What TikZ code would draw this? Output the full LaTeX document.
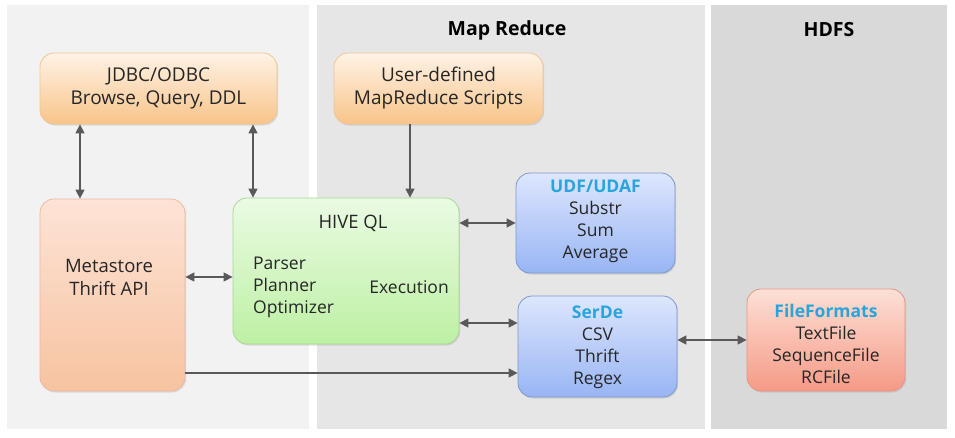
\documentclass[tikz,border=0pt]{standalone}
\usepackage{fontspec}
\setmainfont{Open Sans}
\usetikzlibrary{arrows.meta,shadows}
\definecolor{txt}{HTML}{262626}
\definecolor{cyanT}{HTML}{2AA5DB}
\definecolor{arrC}{HTML}{595959}
\definecolor{panA}{HTML}{F2F2F2}
\definecolor{panB}{HTML}{E6E6E6}
\definecolor{panC}{HTML}{D9D9D9}
\begin{document}
\begin{tikzpicture}[x=1pt,y=-1pt,
  box/.style={rounded corners=14pt, draw, line width=0.8pt, inner sep=0pt,
    drop shadow={shadow xshift=1.2pt, shadow yshift=-1.5pt, opacity=0.22}},
  orangebox/.style={box, top color=orange!10!white, bottom color={rgb,255:red,248;green,196;blue,138}, draw={rgb,255:red,240;green,198;blue,150}},
  peachbox/.style={box, top color={rgb,255:red,253;green,227;blue,214}, bottom color={rgb,255:red,247;green,195;blue,160}, draw={rgb,255:red,236;green,185;blue,160}},
  greenbox/.style={box, top color={rgb,255:red,234;green,251;blue,227}, bottom color={rgb,255:red,189;green,240;blue,164}, draw={rgb,255:red,168;green,216;blue,152}},
  bluebox/.style={box, top color={rgb,255:red,221;green,230;blue,253}, bottom color={rgb,255:red,152;green,181;blue,244}, draw={rgb,255:red,125;green,151;blue,206}},
  coralbox/.style={box, top color={rgb,255:red,253;green,224;blue,214}, bottom color={rgb,255:red,245;green,154;blue,134}, draw={rgb,255:red,231;green,149;blue,133}},
  lbl/.style={text=txt, font=\fontsize{19}{23}\selectfont, align=center, inner sep=0pt},
  lst/.style={lbl, font=\fontsize{17.5}{22}\selectfont},
  ttl/.style={text=black, font=\fontsize{19.5}{22}\selectfont\bfseries, inner sep=0pt},
  arr/.style={draw=arrC, line width=1.4pt, -{Triangle[length=9pt,width=9pt]}},
  darr/.style={draw=arrC, line width=1.4pt, {Triangle[length=9pt,width=9pt]}-{Triangle[length=9pt,width=9pt]}}
]
\useasboundingbox (0,0) rectangle (955,437);
\fill[white] (0,0) rectangle (955,437);
% panels
\fill[panA] (7,5) rectangle (309,429);
\fill[panB] (317,5) rectangle (705,429);
\fill[panC] (711,5) rectangle (947,429);
\node[ttl] (tMR) at (507,30) {Map Reduce};
\node[ttl] (tHD) at (829,30) {HDFS};
% boxes
\node[orangebox, minimum width=237pt, minimum height=71pt] (jdbc) at (158.5,88.5) {};
\node[lbl] (jdbcT) at (158.5,88.5) {JDBC/ODBC\\Browse, Query, DDL};
\node[orangebox, minimum width=209pt, minimum height=71pt] (user) at (438.5,88.5) {};
\node[lbl] (userT) at (438.5,88.5) {User-defined\\MapReduce Scripts};
\node[peachbox, minimum width=145pt, minimum height=192pt] (meta) at (112.5,295) {};
\node[lbl, font=\fontsize{18.5}{23}\selectfont] (metaT) at (109,277) {Metastore\\Thrift API};
\node[greenbox, minimum width=226pt, minimum height=146pt] (hive) at (346,271) {};
\node[lbl, font=\fontsize{18.5}{23}\selectfont] (hiveT) at (353,223) {HIVE QL};
\node[lst, align=left, anchor=west] (hiveL) at (253,287) {Parser\\Planner\\Optimizer};
\node[lst, anchor=east] (hiveE) at (449,287) {Execution};
\node[bluebox, minimum width=159pt, minimum height=100pt] (udf) at (595.5,223) {};
\node[lst] (udfT) at (595.5,221.5) {\textcolor{cyanT}{\bfseries UDF/UDAF}\\Substr\\Sum\\Average};
\node[bluebox, minimum width=159pt, minimum height=101pt] (serde) at (597.5,346.5) {};
\node[lst] (serdeT) at (597.5,347.5) {\textcolor{cyanT}{\bfseries SerDe}\\CSV\\Thrift\\Regex};
\node[coralbox, minimum width=158pt, minimum height=102pt] (ff) at (826,340) {};
\node[lst] (ffT) at (826,343.5) {\textcolor{cyanT}{\bfseries FileFormats}\\TextFile\\SequenceFile\\RCFile};
% connector guides
\coordinate (c1) at (80,0);
\coordinate (c2) at (253,0);
\coordinate (c3) at (410,0);
\coordinate (r1) at (0,277);
\coordinate (r2) at (0,223);
\coordinate (r3) at (0,323);
\coordinate (r4) at (0,373);
\coordinate (r5) at (0,340);
% connectors
\draw[darr] (jdbc.south -| c1) -- (meta.north -| c1);
\draw[darr] (jdbc.south -| c2) -- (hive.north -| c2);
\draw[arr] (user.south -| c3) -- (hive.north -| c3);
\draw[darr] (meta.east |- r1) -- (hive.west |- r1);
\draw[darr] (hive.east |- r2) -- (udf.west |- r2);
\draw[darr] (hive.east |- r3) -- (serde.west |- r3);
\draw[arr] (meta.east |- r4) -- (serde.west |- r4);
\draw[darr] (serde.east |- r5) -- (ff.west |- r5);
\end{tikzpicture}
\end{document}
